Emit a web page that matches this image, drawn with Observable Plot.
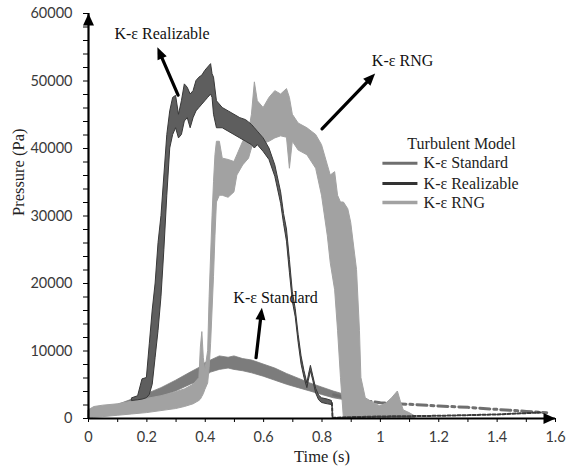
<!DOCTYPE html>
<html>
<head>
<meta charset="utf-8">
<script src="https://cdn.jsdelivr.net/npm/d3@7"></script>
<script src="https://cdn.jsdelivr.net/npm/@observablehq/plot@0.6"></script>
<style>
  html, body { margin: 0; padding: 0; background: #fff; }
  #chart { width: 568px; height: 471px; }
</style>
</head>
<body>
<div id="chart"></div>
<script>
// ---------- data ----------
const xTicks = [0, 0.2, 0.4, 0.6, 0.8, 1, 1.2, 1.4, 1.6];
const xMinorTicks = [0.1, 0.3, 0.5, 0.7, 0.9, 1.1, 1.3, 1.5];
const yTicks = [0, 10000, 20000, 30000, 40000, 50000, 60000];
const yMinorTicks = [2000, 4000, 6000, 8000, 12000, 14000, 16000, 18000, 22000, 24000, 26000, 28000,
  32000, 34000, 36000, 38000, 42000, 44000, 46000, 48000, 52000, 54000, 56000, 58000];
const xDomain = [0, 1.6];
const yDomain = [0, 60000];

// K-ε RNG (oscillating band: low / high envelope)
const rngTime = [0, 0.02, 0.05, 0.10, 0.15, 0.20, 0.25, 0.30, 0.33, 0.36, 0.38, 0.385, 0.39, 0.395, 0.40, 0.41, 0.415, 0.42, 0.425, 0.43, 0.435, 0.44, 0.45, 0.46, 0.48, 0.50, 0.51, 0.53, 0.55, 0.56, 0.57, 0.58, 0.60, 0.62, 0.64, 0.66, 0.68, 0.69, 0.70, 0.72, 0.75, 0.78, 0.80, 0.82, 0.83, 0.845, 0.855, 0.865, 0.875, 0.89, 0.90, 0.92, 0.93, 0.935, 0.95, 0.98, 1.00, 1.02, 1.04, 1.06, 1.07, 1.08, 1.10, 1.12];
const rngLow = [0, 100, 200, 400, 600, 800, 1100, 1400, 1700, 2100, 2600, 2800, 3200, 3600, 4200, 5200, 7500, 11000, 16000, 21000, 27000, 32000, 33000, 33000, 32700, 33500, 36000, 37500, 38500, 40000, 41500, 42500, 40700, 41000, 41500, 41800, 41600, 37000, 41000, 39700, 39000, 37000, 33000, 27000, 23000, 19000, 13000, 6000, 0, 0, 0, 0, 0, 0, 0, 0, 0, 0, 0, 0, 0, 0, 0, 0];
const rngHigh = [1200, 1700, 1900, 2100, 2500, 2900, 3300, 3900, 4300, 5000, 6000, 10500, 12800, 9000, 7000, 10000, 18000, 24000, 30000, 35000, 39000, 41000, 41000, 38500, 38300, 38000, 39000, 41000, 42500, 45000, 49800, 47000, 46000, 47500, 48500, 48000, 48800, 47500, 45000, 43700, 43000, 42000, 40500, 37500, 36000, 36500, 33000, 32000, 32000, 31000, 29000, 22000, 13000, 6000, 3000, 2200, 1800, 2200, 3000, 4000, 2500, 1200, 800, 300];

// K-ε Realizable
const realTime = [0.15, 0.17, 0.185, 0.20, 0.21, 0.22, 0.23, 0.24, 0.25, 0.26, 0.27, 0.28, 0.29, 0.30, 0.31, 0.32, 0.33, 0.34, 0.35, 0.36, 0.37, 0.38, 0.39, 0.40, 0.41, 0.42, 0.425, 0.43, 0.44, 0.46, 0.48, 0.50, 0.52, 0.54, 0.56, 0.57, 0.58, 0.60, 0.62, 0.64, 0.66, 0.67, 0.68, 0.69, 0.70, 0.71, 0.72, 0.73, 0.74, 0.75, 0.755, 0.762, 0.77, 0.78, 0.79, 0.80, 0.82, 0.834];
const realLow = [2600, 2700, 2800, 3000, 3500, 5000, 9000, 13000, 18000, 25000, 33000, 40000, 42000, 43000, 41500, 42000, 44000, 44500, 43000, 44500, 45500, 46000, 46500, 47000, 47500, 48000, 47500, 45000, 43000, 43000, 42500, 42000, 41500, 41000, 40500, 40000, 40500, 39500, 38300, 35800, 31800, 28800, 26200, 21600, 17300, 15000, 11200, 8000, 6000, 4500, 5600, 7000, 5600, 3700, 2700, 2300, 2100, 2000];
const realHigh = [3000, 3300, 5800, 6000, 11000, 16000, 20000, 26000, 30000, 36000, 42000, 45500, 47500, 47800, 45000, 47000, 49500, 49000, 48000, 48500, 50000, 50500, 50800, 51500, 52000, 52500, 51000, 50500, 47000, 46000, 45500, 45000, 44500, 44200, 43500, 43000, 42500, 41500, 40000, 37500, 33500, 30300, 28000, 23500, 18700, 16200, 12400, 9200, 7000, 5200, 6400, 7800, 6300, 4400, 3400, 3000, 2800, 2600];
const realTailTime = [0.834, 0.836, 0.9, 1.0, 1.1, 1.2, 1.3, 1.4, 1.5, 1.55];
const realTailValue = [2300, 100, 200, 300, 350, 400, 500, 600, 800, 900];

// K-ε Standard
const stdTime = [0, 0.05, 0.10, 0.15, 0.20, 0.25, 0.30, 0.35, 0.38, 0.40, 0.42, 0.45, 0.48, 0.50, 0.53, 0.56, 0.60, 0.64, 0.68, 0.72, 0.76, 0.80, 0.84, 0.88, 0.92, 0.96, 1.00, 1.05, 1.10, 1.20, 1.30, 1.40, 1.50, 1.57];
const stdLow = [100, 700, 1100, 1700, 2500, 3200, 4000, 5000, 5500, 6200, 6800, 7200, 7400, 7200, 7000, 6700, 6200, 5600, 5000, 4500, 4000, 3500, 3000, 2700, 2400, 2200, 2000, 1900, 1800, 1600, 1400, 1100, 800, 600];
const stdHigh = [600, 1500, 2000, 2800, 3600, 4500, 5600, 6800, 7500, 8200, 8600, 9200, 9000, 9200, 8800, 8600, 8000, 7400, 6600, 5900, 5200, 4600, 4000, 3500, 3200, 2900, 2700, 2500, 2400, 2100, 1900, 1600, 1300, 1100];

// annotations
const annoLabels = ["K-ε Realizable", "K-ε RNG", "K-ε Standard"];
const annoX = [0.252, 1.076, 0.641];
const annoY = [57000, 53000, 17900];
const arrowFromX = [0.307, 0.800, 0.574];
const arrowFromY = [47900, 42900, 9000];
const arrowToX = [0.236, 0.982, 0.594];
const arrowToY = [55000, 51100, 16400];

// legend
const legendTitle = "Turbulent Model";
const legendNames = ["K-ε Standard", "K-ε Realizable", "K-ε RNG"];
const legendTitlePos = [1.278, 40700];
const legendRowY = [37800, 34800, 32000];
const legendLineX = [1.007, 1.127];
const legendTextX = 1.148;

// ---------- layout ----------
const W = 568, H = 471, mL = 88, mR = 13, mT = 13, mB = 53;
const sx = Plot.scale({x: {domain: xDomain, range: [mL, W - mR]}});
const sy = Plot.scale({y: {domain: yDomain, range: [H - mB, mT]}});

// ---------- build tables ----------
const rng = rngTime.map((t, i) => ({t, lo: rngLow[i], hi: rngHigh[i]}));
const real = realTime.map((t, i) => ({t, lo: realLow[i], hi: realHigh[i]}));
const realTail = realTailTime.map((t, i) => ({t, v: realTailValue[i]}));
const std = stdTime.map((t, i) => ({t, lo: stdLow[i], hi: stdHigh[i], mid: (stdLow[i] + stdHigh[i]) / 2}));
const stdBand = std.filter(d => d.t <= 0.88);
const stdTail = std.filter(d => d.t >= 0.84);
const annos = annoLabels.map((s, i) => {
  const px = sx.apply(arrowToX[i]) - sx.apply(arrowFromX[i]);
  const py = sy.apply(arrowToY[i]) - sy.apply(arrowFromY[i]);
  return {s, x: annoX[i], y: annoY[i], x1: arrowFromX[i], y1: arrowFromY[i], x2: arrowToX[i], y2: arrowToY[i],
    angle: Math.atan2(px, -py) * 180 / Math.PI};
});
const legendStyles = [
  {stroke: "#6f6f6f", dash: "11,3,3,3,3,3", w: 3},
  {stroke: "#333333", dash: "10,2,2,2,2,2,2,2", w: 3},
  {stroke: "#a2a2a2", dash: null, w: 3.5}
];
const legendRows = legendNames.map((s, i) => ({s, y: legendRowY[i], ...legendStyles[i]}));

const arrowUp = {draw(ctx) { ctx.moveTo(0, 0); ctx.lineTo(-5.5, 12); ctx.lineTo(5.5, 12); ctx.closePath(); }};
const arrowRight = {draw(ctx) { ctx.moveTo(0, 0); ctx.lineTo(-12, -5.5); ctx.lineTo(-12, 5.5); ctx.closePath(); }};
const headUp = {draw(ctx) { ctx.moveTo(0, 0); ctx.lineTo(-5, 12); ctx.lineTo(5, 12); ctx.closePath(); }};

const serif = "'Liberation Serif', 'Times New Roman', serif";

const chart = Plot.plot({
  width: W,
  height: H,
  marginLeft: mL,
  marginRight: mR,
  marginTop: mT,
  marginBottom: mB,
  x: {domain: xDomain},
  y: {domain: yDomain},
  style: {background: "white", fontFamily: "Lato, sans-serif", fontSize: "14.5px", color: "#3a3a3a", overflow: "visible"},
  marks: [
    // series
    Plot.areaY(stdBand, {x: "t", y1: "lo", y2: "hi", fill: "#7c7c7c", stroke: "#7c7c7c", strokeWidth: 0.8}),
    Plot.lineY(stdTail, {x: "t", y: "mid", stroke: "#6f6f6f", strokeWidth: 3, strokeDasharray: "10,4,3,4"}),
    Plot.areaY(rng, {x: "t", y1: "lo", y2: "hi", fill: "#a2a2a2", stroke: "#a2a2a2", strokeWidth: 1}),
    Plot.areaY(real, {x: "t", y1: "lo", y2: "hi", fill: "#5e5e5e", stroke: "#383838", strokeWidth: 1}),
    Plot.lineY(realTail, {x: "t", y: "v", stroke: "#3a3a3a", strokeWidth: 2, strokeDasharray: "3,2"}),

    // axes
    Plot.axisY({ticks: yMinorTicks, tickSize: 5, tickFormat: () => "", label: null, stroke: "black"}),
    Plot.axisY({ticks: yTicks, tickSize: 5, tickPadding: 11, tickFormat: d3.format("d"), label: null, stroke: "black", fill: "#3a3a3a"}),
    Plot.axisX({ticks: xMinorTicks, tickSize: 4, tickFormat: () => "", label: null, stroke: "black"}),
    Plot.axisX({ticks: xTicks, tickSize: 4, tickPadding: 9, tickFormat: d => String(+d.toFixed(1)), label: null, stroke: "black", fill: "#3a3a3a"}),
    Plot.ruleX([xDomain[0]], {y1: yDomain[0], y2: yDomain[1], stroke: "black", strokeWidth: 2.2}),
    Plot.ruleY([yDomain[0]], {x1: xDomain[0], x2: xDomain[1], stroke: "black", strokeWidth: 2.2}),
    Plot.dot([0], {x: xDomain[0], y: yDomain[1], symbol: arrowUp, fill: "black", stroke: "none"}),
    Plot.dot([0], {x: xDomain[1], y: yDomain[0], symbol: arrowRight, fill: "black", stroke: "none"}),

    // axis titles
    Plot.text(["Time (s)"], {frameAnchor: "bottom", dy: 43, text: d => d, fontFamily: serif, fontSize: 16.5, fill: "#222"}),
    Plot.text(["Pressure (Pa)"], {frameAnchor: "left", dx: -70, rotate: -90, text: d => d, fontFamily: serif, fontSize: 16.5, fill: "#222"}),

    // annotations: shaft + filled head
    Plot.arrow(annos, {x1: "x1", y1: "y1", x2: "x2", y2: "y2", stroke: "black", strokeWidth: 3.2, headLength: 0, insetEnd: 9}),
    Plot.dot(annos, {x: "x2", y: "y2", symbol: headUp, rotate: "angle", fill: "black", stroke: "none"}),
    Plot.text(annos, {x: "x", y: "y", text: "s", fontFamily: serif, fontSize: 16, fill: "#111"}),

    // legend
    Plot.text([legendTitle], {x: legendTitlePos[0], y: legendTitlePos[1], text: d => d, fontFamily: serif, fontSize: 16, fill: "#222"}),
    Plot.link(legendRows, {x1: legendLineX[0], x2: legendLineX[1], y1: "y", y2: "y", stroke: d => d.stroke, strokeWidth: d => d.w, strokeDasharray: d => d.dash}),
    Plot.text(legendRows, {x: legendTextX, y: "y", text: "s", textAnchor: "start", fontFamily: serif, fontSize: 16, fill: "#222"})
  ]
});
document.getElementById("chart").appendChild(chart);
</script>
</body>
</html>
